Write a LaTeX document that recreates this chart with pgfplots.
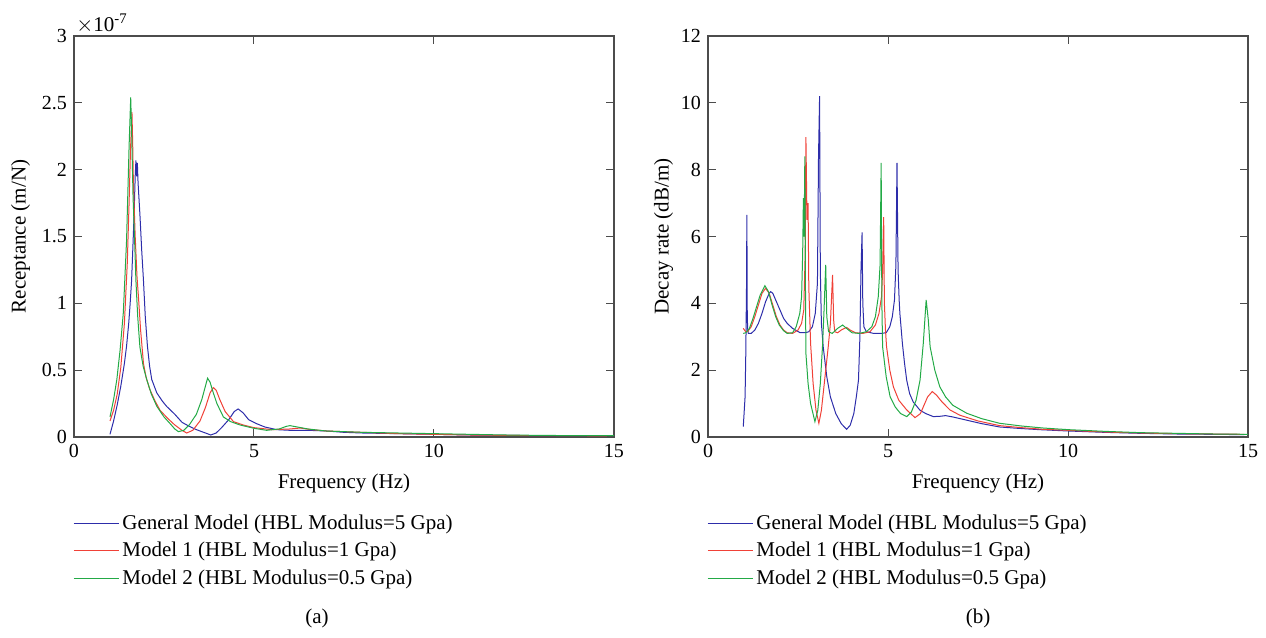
\documentclass[border=0pt]{standalone}
\usepackage{fontspec}
\setmainfont{Liberation Serif}
\usepackage{pgfplots}
\pgfplotsset{compat=1.18}
\definecolor{cblue}{RGB}{45,45,170}
\definecolor{cred}{RGB}{240,65,55}
\definecolor{cgreen}{RGB}{35,170,70}
\pgfplotsset{
  myax/.style={
    scale only axis, width=270pt, height=200.5pt,
    xmin=0, xmax=15, xtick={0,5,10,15},
    tick align=inside,
    axis line style={draw=black!70, line width=0.6pt},
    tick style={draw=black!70, line width=0.5pt},
    major tick length=4pt,
    /pgf/number format/assume math mode=true,
    tick label style={font=\fontsize{10}{12}\selectfont},
    label style={font=\fontsize{10.5}{12}\selectfont},
    xlabel={Frequency (Hz)},
    xlabel style={yshift=-1.5pt},
    clip=false,
    legend cell align=left,
    legend style={draw=none, fill=none, at={(-0.013,-0.175)}, anchor=north west,
      font=\fontsize{10.5}{13.5}\selectfont, row sep=2pt,
      nodes={inner sep=1.5pt}},
    legend image code/.code={\draw[#1] (0pt,0pt) -- (17.5pt,0pt); \path (0pt,0pt) -- (22.5pt,0pt);},
    every axis plot/.append style={line width=0.5pt, mark=none},
  }
}
\begin{document}
\begin{tikzpicture}[x=1pt,y=1pt]
\path[use as bounding box] (0,0) rectangle (633,319);
\begin{axis}[myax, at={(37pt,100.5pt)}, anchor=south west,
  ymin=0, ymax=3, ytick={0,0.5,1,1.5,2,2.5,3},
  ylabel={Receptance (m/N)}, ylabel style={yshift=-1pt}]
\addplot[cblue] coordinates {
(1.0,0.02)(1.1,0.12)(1.2,0.24)(1.3,0.38)(1.4,0.55)(1.46,0.68)(1.52,0.85)(1.56,1.0)(1.60,1.17)(1.64,1.45)(1.67,1.67)(1.70,1.95)(1.72,2.07)(1.74,1.95)(1.76,2.05)(1.78,1.9)(1.83,1.67)(1.88,1.40)(1.93,1.17)(1.98,0.9)(2.04,0.68)(2.10,0.53)(2.16,0.43)(2.3,0.33)(2.45,0.27)(2.57,0.23)(2.8,0.17)(3.0,0.11)(3.2,0.08)(3.4,0.055)(3.6,0.035)(3.8,0.015)(3.95,0.03)(4.1,0.07)(4.3,0.13)(4.45,0.19)(4.56,0.21)(4.7,0.18)(4.85,0.13)(5.07,0.10)(5.3,0.075)(5.63,0.055)(6.0,0.05)(6.5,0.05)(7,0.045)(7.5,0.035)(8,0.03)(9,0.025)(10,0.02)(11,0.015)(12,0.012)(13,0.01)(14,0.01)(14.8,0.01)};
\addlegendentry{General Model (HBL Modulus=5 Gpa)}
\addplot[cred] coordinates {
(1.0,0.12)(1.1,0.2)(1.2,0.32)(1.3,0.52)(1.4,0.85)(1.48,1.3)(1.53,1.75)(1.57,2.15)(1.61,2.43)(1.63,2.2)(1.65,1.9)(1.7,1.5)(1.75,1.2)(1.79,1.05)(1.85,0.8)(1.93,0.55)(2.0,0.45)(2.1,0.36)(2.25,0.27)(2.39,0.20)(2.6,0.14)(2.8,0.09)(3.0,0.05)(3.13,0.03)(3.3,0.05)(3.5,0.12)(3.65,0.22)(3.78,0.33)(3.87,0.37)(3.95,0.35)(4.05,0.28)(4.2,0.19)(4.43,0.115)(4.7,0.09)(5.0,0.07)(5.5,0.055)(6.0,0.06)(6.28,0.067)(6.6,0.055)(7,0.045)(8,0.035)(9,0.025)(10,0.02)(11,0.015)(12,0.012)(13,0.01)(14,0.01)(14.8,0.008)};
\addlegendentry{Model 1 (HBL Modulus=1 Gpa)}
\addplot[cgreen] coordinates {
(1.0,0.15)(1.1,0.28)(1.19,0.43)(1.28,0.65)(1.37,0.93)(1.46,1.47)(1.53,2.17)(1.575,2.54)(1.6,2.3)(1.64,1.8)(1.69,1.42)(1.72,1.17)(1.77,0.9)(1.83,0.675)(1.92,0.53)(2.02,0.43)(2.15,0.32)(2.3,0.23)(2.5,0.15)(2.67,0.10)(2.8,0.06)(2.9,0.04)(3.05,0.05)(3.2,0.09)(3.4,0.17)(3.55,0.28)(3.65,0.38)(3.71,0.44)(3.78,0.41)(3.87,0.33)(3.97,0.25)(4.15,0.15)(4.35,0.115)(4.61,0.09)(5.0,0.065)(5.35,0.05)(5.7,0.06)(5.9,0.08)(6.0,0.085)(6.2,0.075)(6.5,0.06)(7,0.045)(8,0.035)(9,0.03)(10,0.025)(11,0.02)(12,0.015)(13,0.012)(14,0.01)(15,0.01)};
\addlegendentry{Model 2 (HBL Modulus=0.5 Gpa)}
\node[anchor=south west, inner sep=1pt, font=\fontsize{10.5}{12}\selectfont] at (rel axis cs:0,1) {$\times$10\textsuperscript{-7}};
\end{axis}
\begin{axis}[myax, at={(354pt,100.5pt)}, anchor=south west,
  ymin=0, ymax=12, ytick={0,2,4,6,8,10,12},
  ylabel={Decay rate (dB/m)}, ylabel style={yshift=-3pt}]
\addplot[cblue] coordinates {
(0.98,0.31)(1.03,1.2)(1.05,2.5)(1.07,4.5)(1.08,6.65)(1.09,3.8)(1.10,3.25)(1.12,3.1)(1.2,3.1)(1.3,3.2)(1.4,3.4)(1.5,3.7)(1.6,4.05)(1.7,4.3)(1.74,4.35)(1.8,4.3)(1.9,4.05)(2.0,3.8)(2.1,3.55)(2.2,3.4)(2.35,3.25)(2.56,3.12)(2.7,3.12)(2.8,3.15)(2.9,3.3)(2.98,3.7)(3.04,4.6)(3.07,8.4)(3.10,10.2)(3.12,5.0)(3.15,3.4)(3.2,2.7)(3.3,1.8)(3.4,1.2)(3.55,0.7)(3.7,0.4)(3.85,0.23)(3.95,0.35)(4.05,0.7)(4.12,1.2)(4.18,1.7)(4.22,3.0)(4.25,5.0)(4.28,6.12)(4.30,4.0)(4.33,3.3)(4.4,3.15)(4.6,3.1)(4.8,3.1)(4.95,3.12)(5.05,3.3)(5.12,3.6)(5.18,4.1)(5.22,5.15)(5.25,8.2)(5.28,5.0)(5.31,4.1)(5.33,3.7)(5.4,2.8)(5.46,2.2)(5.52,1.7)(5.6,1.3)(5.7,1.05)(5.89,0.8)(6.05,0.7)(6.26,0.61)(6.45,0.62)(6.6,0.64)(6.8,0.6)(7.2,0.5)(7.6,0.4)(8.1,0.3)(8.6,0.26)(9.2,0.22)(10,0.18)(11,0.14)(12,0.11)(13,0.09)(14,0.08)(14.9,0.07)};
\addlegendentry{General Model (HBL Modulus=5 Gpa)}
\addplot[cred] coordinates {
(0.98,3.25)(1.05,3.15)(1.1,3.15)(1.2,3.3)(1.3,3.6)(1.4,3.95)(1.5,4.3)(1.6,4.45)(1.7,4.3)(1.8,3.95)(1.9,3.6)(2.0,3.35)(2.1,3.2)(2.2,3.12)(2.35,3.1)(2.5,3.2)(2.6,3.4)(2.66,3.8)(2.70,5.5)(2.72,8.97)(2.75,6.5)(2.78,7.0)(2.80,4.5)(2.85,2.8)(2.92,1.6)(3.0,0.8)(3.08,0.41)(3.15,0.8)(3.22,1.5)(3.3,2.3)(3.34,2.7)(3.40,3.4)(3.46,4.85)(3.49,3.5)(3.52,3.15)(3.6,3.12)(3.7,3.2)(3.85,3.28)(3.95,3.2)(4.1,3.12)(4.3,3.1)(4.5,3.15)(4.65,3.35)(4.75,3.7)(4.82,4.2)(4.85,4.95)(4.88,6.58)(4.90,4.0)(4.93,3.2)(4.96,2.7)(5.05,2.0)(5.15,1.5)(5.3,1.1)(5.52,0.81)(5.75,0.58)(5.9,0.7)(6.0,0.95)(6.1,1.2)(6.23,1.36)(6.35,1.25)(6.5,1.05)(6.72,0.81)(7.0,0.65)(7.5,0.48)(8.1,0.34)(8.7,0.28)(9.3,0.23)(10,0.2)(11,0.15)(12,0.12)(13,0.1)(14,0.09)(14.9,0.08)};
\addlegendentry{Model 1 (HBL Modulus=1 Gpa)}
\addplot[cgreen] coordinates {
(0.98,3.1)(1.05,3.12)(1.15,3.25)(1.25,3.55)(1.35,3.9)(1.45,4.25)(1.58,4.53)(1.68,4.35)(1.78,3.95)(1.88,3.6)(1.98,3.35)(2.1,3.18)(2.2,3.1)(2.35,3.12)(2.45,3.3)(2.55,3.7)(2.6,4.2)(2.63,5.5)(2.65,7.15)(2.67,6.0)(2.69,8.4)(2.71,4.0)(2.72,2.5)(2.78,1.6)(2.85,1.0)(2.97,0.46)(3.05,0.8)(3.12,1.6)(3.18,2.7)(3.22,3.7)(3.27,5.15)(3.30,3.6)(3.35,3.15)(3.45,3.1)(3.6,3.25)(3.74,3.35)(3.85,3.25)(4.0,3.12)(4.2,3.1)(4.4,3.15)(4.55,3.3)(4.65,3.6)(4.73,4.2)(4.78,5.15)(4.81,8.2)(4.83,4.0)(4.85,2.7)(4.95,1.8)(5.06,1.2)(5.2,0.9)(5.35,0.7)(5.52,0.61)(5.65,0.75)(5.78,1.1)(5.89,1.7)(5.98,2.8)(6.06,4.1)(6.12,3.5)(6.17,2.7)(6.3,2.0)(6.44,1.5)(6.6,1.2)(6.8,0.95)(7.19,0.71)(7.6,0.55)(8.1,0.41)(8.7,0.33)(9.3,0.27)(10,0.22)(11,0.17)(12,0.13)(13,0.11)(14,0.09)(15,0.08)};
\addlegendentry{Model 2 (HBL Modulus=0.5 Gpa)}
\end{axis}
\node[font=\fontsize{10.5}{12}\selectfont] at (158.5,10) {(a)};
\node[font=\fontsize{10.5}{12}\selectfont] at (489,10) {(b)};
\end{tikzpicture}
\end{document}
